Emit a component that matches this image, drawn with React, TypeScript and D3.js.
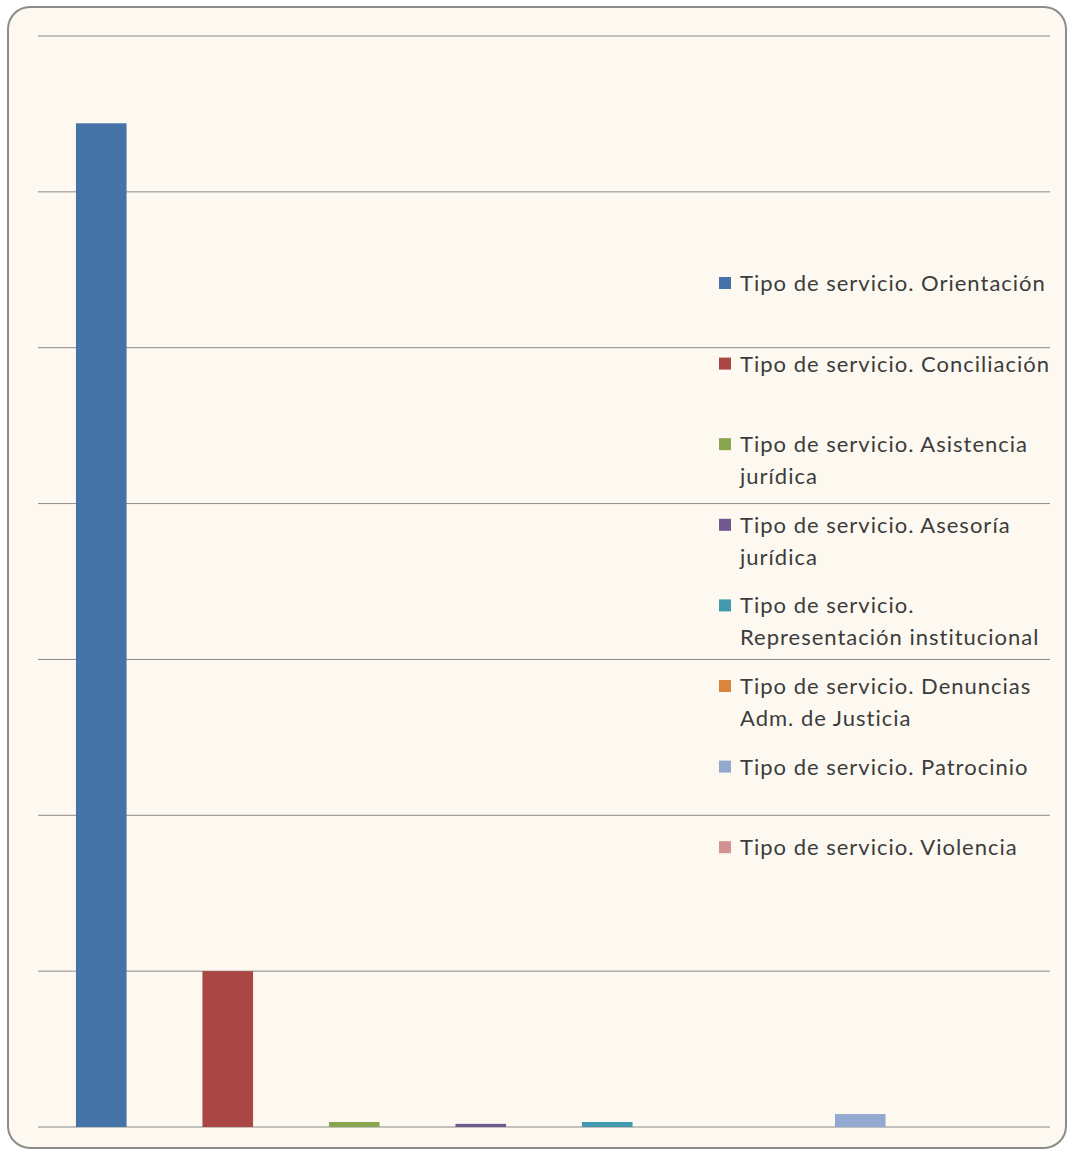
import React from "react";
import * as d3 from "d3";

const categories = [
  "Tipo de servicio. Orientación",
  "Tipo de servicio. Conciliación",
  "Tipo de servicio. Asistencia jurídica",
  "Tipo de servicio. Asesoría jurídica",
  "Tipo de servicio. Representación institucional",
  "Tipo de servicio. Denuncias Adm. de Justicia",
  "Tipo de servicio. Patrocinio",
  "Tipo de servicio. Violencia",
];
const legendLines = [
  ["Tipo de servicio. Orientación"],
  ["Tipo de servicio. Conciliación"],
  ["Tipo de servicio. Asistencia", "jurídica"],
  ["Tipo de servicio. Asesoría", "jurídica"],
  ["Tipo de servicio.", "Representación institucional"],
  ["Tipo de servicio. Denuncias", "Adm. de Justicia"],
  ["Tipo de servicio. Patrocinio"],
  ["Tipo de servicio. Violencia"],
];
const values = [6440, 1000, 32, 20, 32, 0, 83, 0];
const colors = ["#4572A7", "#AA4643", "#89A54E", "#71588F", "#4198AF", "#DB843D", "#93A9CF", "#D19392"];
const yTicks = [0, 1000, 2000, 3000, 4000, 5000, 6000, 7000];

const W = 1068;
const H = 1151;
const plot = { left: 38, right: 1050, top: 36, bottom: 1127 };

export default function App() {
  const x = d3.scaleBand<string>().domain(categories).range([plot.left, plot.right]).paddingInner(0.6).paddingOuter(0.3);
  const y = d3.scaleLinear().domain([0, 7000]).range([plot.bottom, plot.top]);
  const font = "Lato, 'Open Sans', sans-serif";
  return (
    <svg width={W} height={H} style={{ position: "absolute", left: 0, top: 0, display: "block" }}>
      <rect x={0} y={0} width={W} height={H} fill="#ffffff" />
      <rect x={8} y={7} width={1058} height={1141} rx={22} ry={22} fill="#FDF9F0" stroke="#8c8c8c" strokeWidth={2} />
      {yTicks.map((t) => (
        <line key={t} x1={plot.left} x2={plot.right} y1={y(t)} y2={y(t)} stroke="#8a8a8a" strokeWidth={1} />
      ))}
      {categories.map((c, i) => (
        <rect
          key={c}
          x={x(c)}
          y={y(values[i])}
          width={x.bandwidth()}
          height={y(0) - y(values[i])}
          fill={colors[i]}
        />
      ))}
      <g fontFamily={font} fontSize={22} fill="#3c3c3c" letterSpacing={1}>
        {legendLines.map((lines, i) => {
          const cy = 283 + i * 80.6;
          return (
            <g key={i}>
              <rect x={719} y={cy - 6} width={12} height={12} fill={colors[i]} />
              {lines.map((ln, j) => (
                <text key={j} x={740} y={cy + 8 + j * 32}>
                  {ln}
                </text>
              ))}
            </g>
          );
        })}
      </g>
    </svg>
  );
}
